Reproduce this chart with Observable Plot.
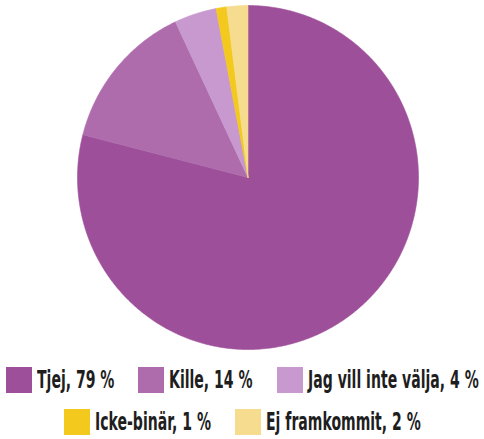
<!DOCTYPE html>
<html>
<head>
<meta charset="utf-8">
<script src="https://cdn.jsdelivr.net/npm/d3@7"></script>
<script src="https://cdn.jsdelivr.net/npm/@observablehq/plot@0.6"></script>
<style>
  html, body { margin: 0; padding: 0; background: #fff; overflow: hidden; }
  #chart svg { display: block; }
  .legend { font-family: "DejaVu Sans", sans-serif; font-weight: bold; color: #1e1e1e; font-size: 24px; line-height: 1; }
  .row { display: flex; justify-content: center; align-items: center; }
  .item { display: flex; align-items: center; margin: 0 12px; }
  .sw { width: 26px; height: 26px; margin-right: 5px; flex: none; }
  .wrap { display: block; overflow: visible; height: 24px; position: relative; }
  .lbl { position: absolute; left: 0; top: 0; transform-origin: 0 50%; transform: scaleX(0.585); white-space: nowrap; }
</style>
</head>
<body>
<div id="chart"></div>
<script>
const categories = ["Tjej", "Kille", "Jag vill inte välja", "Icke-binär", "Ej framkommit"];
const values = [79, 14, 4, 1, 2];
const colors = ["#9d4f99", "#ae6cad", "#c899cf", "#f2c91c", "#f5dc8e"];
const legendRows = [[0, 1, 2], [3, 4]];

// slice outlines built from the values (angles clockwise from 12 o'clock)
const pie = d3.pie().sort(null).value(d => d.value)(categories.map((name, i) => ({name, value: values[i]})));
const pts = [];
for (const a of pie) {
  const name = a.data.name;
  pts.push({name, x: 0, y: 0});
  const n = Math.max(4, Math.ceil((a.endAngle - a.startAngle) / 0.01));
  for (let k = 0; k <= n; k++) {
    const t = a.startAngle + (a.endAngle - a.startAngle) * k / n;
    pts.push({name, x: Math.sin(t), y: Math.cos(t)});
  }
  pts.push({name, x: 0, y: 0});
}

const chart = Plot.plot({
  width: 484,
  height: 358,
  margin: 0,
  x: {domain: [-1, 1], range: [77, 418], axis: null},
  y: {domain: [-1, 1], range: [349, 5], axis: null},
  color: {domain: categories, range: colors},
  marks: [
    Plot.line(pts, {x: "x", y: "y", z: "name", fill: "name", stroke: "name", strokeWidth: 0.6, curve: "linear"})
  ]
});
document.getElementById("chart").appendChild(chart);

const legend = document.createElement("div");
legend.className = "legend";
const rowHeights = [44, 40];
const labels = [];
legendRows.forEach((row, ri) => {
  const r = document.createElement("div");
  r.className = "row";
  r.style.height = rowHeights[ri] + "px";
  for (const i of row) {
    const it = document.createElement("div");
    it.className = "item";
    const sw = document.createElement("div");
    sw.className = "sw";
    sw.style.background = colors[i];
    const wrap = document.createElement("div");
    wrap.className = "wrap";
    const lb = document.createElement("span");
    lb.className = "lbl";
    lb.textContent = `${categories[i]}, ${values[i]} %`;
    wrap.appendChild(lb);
    it.appendChild(sw);
    it.appendChild(wrap);
    r.appendChild(it);
    labels.push([wrap, lb]);
  }
  legend.appendChild(r);
});
document.body.appendChild(legend);
for (const [wrap, lb] of labels) {
  wrap.style.width = (lb.getBoundingClientRect().width) + "px";
}
</script>
</body>
</html>
